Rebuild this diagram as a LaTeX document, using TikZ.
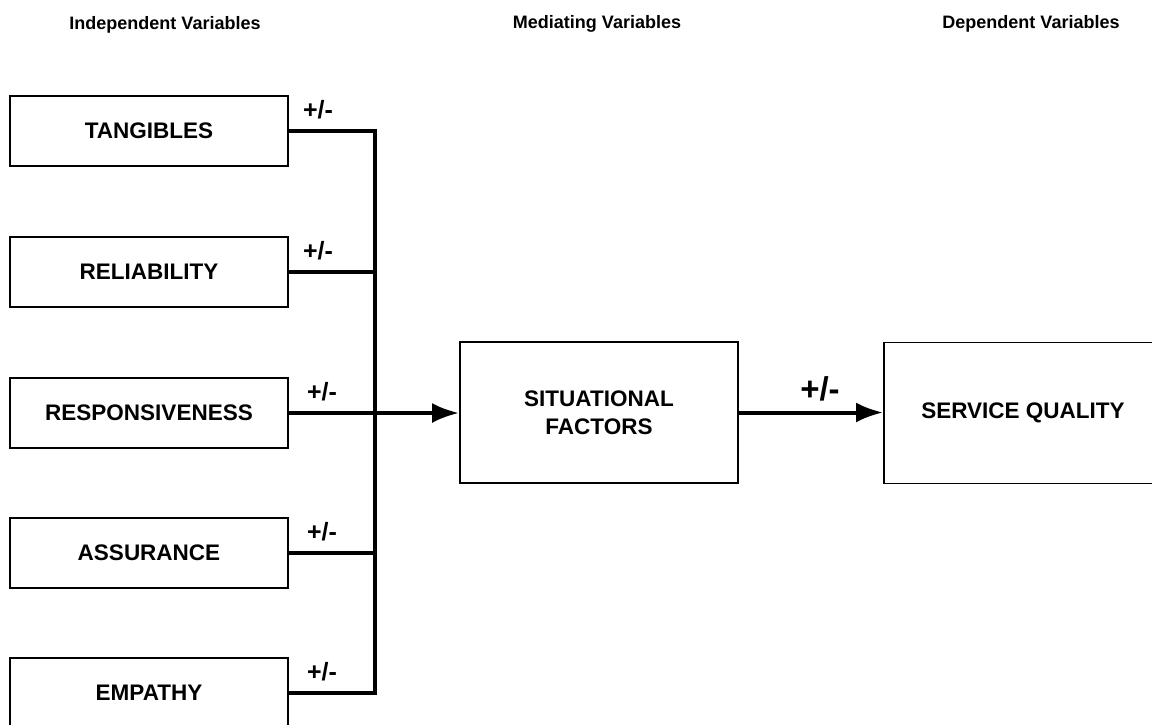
\documentclass[tikz,border=0pt]{standalone}
\usepackage{fontspec}
\setmainfont{Liberation Sans}
\usetikzlibrary{arrows.meta,calc}
\begin{document}
\begin{tikzpicture}[x=1pt,y=-1pt,
  box/.style={draw, line width=1.8pt, inner sep=0pt, align=center,
    font=\fontsize{22.5}{28}\selectfont\bfseries},
  leftbox/.style={box, minimum width=278pt, minimum height=70pt},
  bigbox/.style={box, minimum width=278pt, minimum height=141pt},
  link/.style={line width=4pt},
  arrowlink/.style={link, -{Latex[length=27pt,width=20pt]}},
  head/.style={anchor=base, font=\fontsize{18}{20}\selectfont\bfseries},
  sign/.style={anchor=base, font=\fontsize{25}{27}\selectfont\bfseries},
  bigsign/.style={anchor=base, font=\fontsize{33}{35}\selectfont\bfseries}]
\useasboundingbox (0,0) rectangle (1152,724);
\clip (0,0) rectangle (1152,724);

% column headings
\node[head] (h1) at (165,29) {Independent Variables};
\node[head] (h2) at (597,28) {Mediating Variables};
\node[head] (h3) at (1031,28) {Dependent Variables};

% independent variables
\node[leftbox] (tan) at (149,131) {TANGIBLES};
\node[leftbox] (rel) at (149,272) {RELIABILITY};
\node[leftbox] (res) at (149,413) {RESPONSIVENESS};
\node[leftbox] (ass) at (149,553) {ASSURANCE};
\node[leftbox] (emp) at (149,693) {EMPATHY};

% mediating and dependent variables
\node[bigbox] (sit) at (599,412.5) {SITUATIONAL\\FACTORS};
\node[bigbox] (sq) at (1023,413) {SERVICE QUALITY};

% collecting bus
\coordinate (bus) at (375,0);
\draw[link] (tan.east) -- (tan.east -| bus);
\draw[link] (rel.east) -- (rel.east -| bus);
\draw[link] (ass.east) -- (ass.east -| bus);
\draw[link] (emp.east) -- (emp.east -| bus);
\draw[link] ($(tan.east -| bus)+(0,-2)$) -- ($(emp.east -| bus)+(0,2)$);
\draw[arrowlink] (res.east) -- (res.east -| sit.west);
\draw[arrowlink] (sit.east) -- (sit.east -| sq.west);

% signs
\node[sign] (s1) at (318,118) {+/-};
\node[sign] (s2) at (318,259) {+/-};
\node[sign] (s3) at (322,400) {+/-};
\node[sign] (s4) at (322,540) {+/-};
\node[sign] (s5) at (322,680) {+/-};
\node[bigsign] (s6) at (820,400) {+/-};
\end{tikzpicture}
\end{document}
